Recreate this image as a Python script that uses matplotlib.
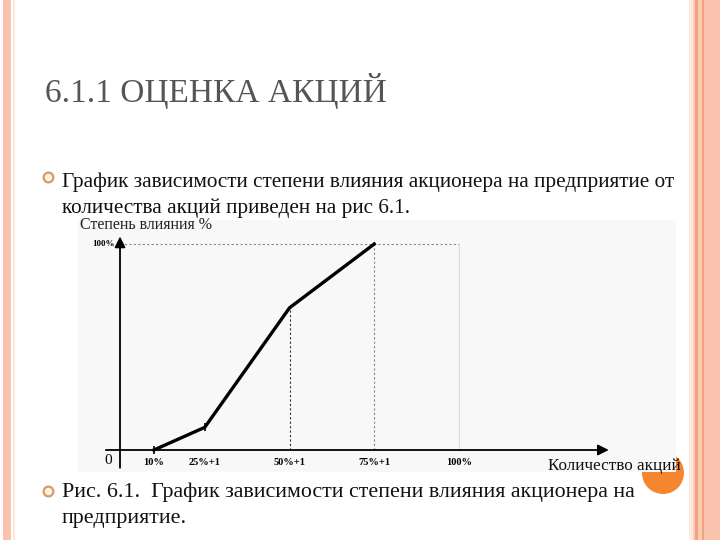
import matplotlib

matplotlib.use("Agg")
import matplotlib.pyplot as plt
from matplotlib.patches import Circle, Rectangle

# share of stock held, % (x) and degree of influence, % (y)
share_pct = [10, 25, 50, 75]
influence_pct = [0, 11, 69, 100]
tick_pos = [10, 25, 50, 75, 100]
tick_labels = ["10%", "25%+1", "50%+1", "75%+1", "100%"]

title = "6.1.1 ОЦЕНКА АКЦИЙ"
intro_lines = [
    "График зависимости степени влияния акционера на предприятие от",
    "количества акций приведен на рис 6.1.",
]
caption_lines = [
    "Рис. 6.1.  График зависимости степени влияния акционера на",
    "предприятие.",
]
y_title = "Степень влияния %"
x_title = "Количество акций"

SERIF = ["Liberation Serif", "DejaVu Serif"]

fig = plt.figure(figsize=(7.2, 5.4), dpi=100)
fig.patch.set_facecolor("white")

# slide layer in pixel coordinates
bg = fig.add_axes([0, 0, 1, 1])
bg.set_xlim(0, 720)
bg.set_ylim(540, 0)
bg.axis("off")

# border stripes
bg.add_patch(Rectangle((3, 0), 8, 540, color="#fbc3ad", lw=0))
bg.add_patch(Rectangle((13, 0), 2, 540, color="#fde6da", lw=0))
bg.add_patch(Rectangle((689, 0), 4, 540, color="#fdeadf", lw=0))
bg.add_patch(Rectangle((693, 0), 2, 540, color="#f9cdb9", lw=0))
bg.add_patch(Rectangle((695, 0), 3, 540, color="#f3a27e", lw=0))
bg.add_patch(Rectangle((698, 0), 4, 540, color="#fbcbb8", lw=0))
bg.add_patch(Rectangle((702, 0), 2, 540, color="#f3a27e", lw=0))
bg.add_patch(Rectangle((704, 0), 16, 540, color="#fbc4ae", lw=0))

bg.text(45, 102, title, fontsize=24, family=SERIF, color="#555555", va="baseline")

for y in (177, 491):
    bg.plot(48, y, marker="o", ms=7, mfc="#fff3e6", mec="#d99a66", mew=1.6)

for i, line in enumerate(intro_lines):
    bg.text(62, 187 + 26 * i, line, fontsize=15.3, family=SERIF, color="#111111", va="baseline")
for i, line in enumerate(caption_lines):
    bg.text(62, 497 + 26 * i, line, fontsize=15.8, family=SERIF, color="#111111", va="baseline")

# orange circle sits behind the pasted figure
bg.add_patch(Circle((663, 473), 21, color="#f5862f", lw=0))
bg.add_patch(Rectangle((78, 220), 598, 252, color="#f8f8f8", lw=0))

bg.text(80, 229, y_title, fontsize=11.5, family=SERIF, color="#222222", va="baseline")
bg.text(614, 470, x_title, fontsize=12.3, family=SERIF, color="#111111", va="baseline", ha="center")

# chart area: x 0..100 -> px 120..459, y 0..100 -> px 450..244
xl = (-5, 145)
yl = (-10, 105)
sx = (459 - 120) / 100
sy = (450 - 244) / 100
left = 120 + xl[0] * sx
right = 120 + xl[1] * sx
bottom = 450 - yl[0] * sy
top = 450 - yl[1] * sy
ax = fig.add_axes([left / 720, 1 - bottom / 540, (right - left) / 720, (bottom - top) / 540])
ax.set_xlim(*xl)
ax.set_ylim(*yl)
ax.axis("off")
ax.patch.set_alpha(0)

ax.annotate("", xy=(xl[1], 0), xytext=(xl[0], 0),
            arrowprops=dict(arrowstyle="-|>", color="black", lw=1.3, mutation_scale=16))
ax.annotate("", xy=(0, yl[1]), xytext=(0, yl[0]),
            arrowprops=dict(arrowstyle="-|>", color="black", lw=1.3, mutation_scale=16))

ax.plot([0, 100], [100, 100], ls=(0, (2, 2)), color="#888888", lw=0.8)
ax.plot([50, 50], [0, influence_pct[2]], ls=(0, (2, 2)), color="#333333", lw=0.8)
ax.plot([75, 75], [0, 100], ls=(0, (2, 2)), color="#888888", lw=0.8)
ax.plot([100, 100], [0, 100], color="#dddddd", lw=0.8)

ax.plot(share_pct, influence_pct, color="black", lw=2.4, solid_joinstyle="miter")
ax.plot(share_pct[:2], influence_pct[:2], ls="none", marker="|", ms=6, mew=1.2, color="black")

for pos, lab in zip(tick_pos, tick_labels):
    ax.text(pos, -6, lab, fontsize=7.5, family=SERIF, fontweight="bold", ha="center", va="center")
ax.text(-3.5, -5, "0", fontsize=11, family=SERIF, ha="center", va="center")
ax.text(-1.5, 100, "100%", fontsize=6.5, family=SERIF, fontweight="bold", ha="right", va="center")

fig.savefig("out.png", dpi=100)
